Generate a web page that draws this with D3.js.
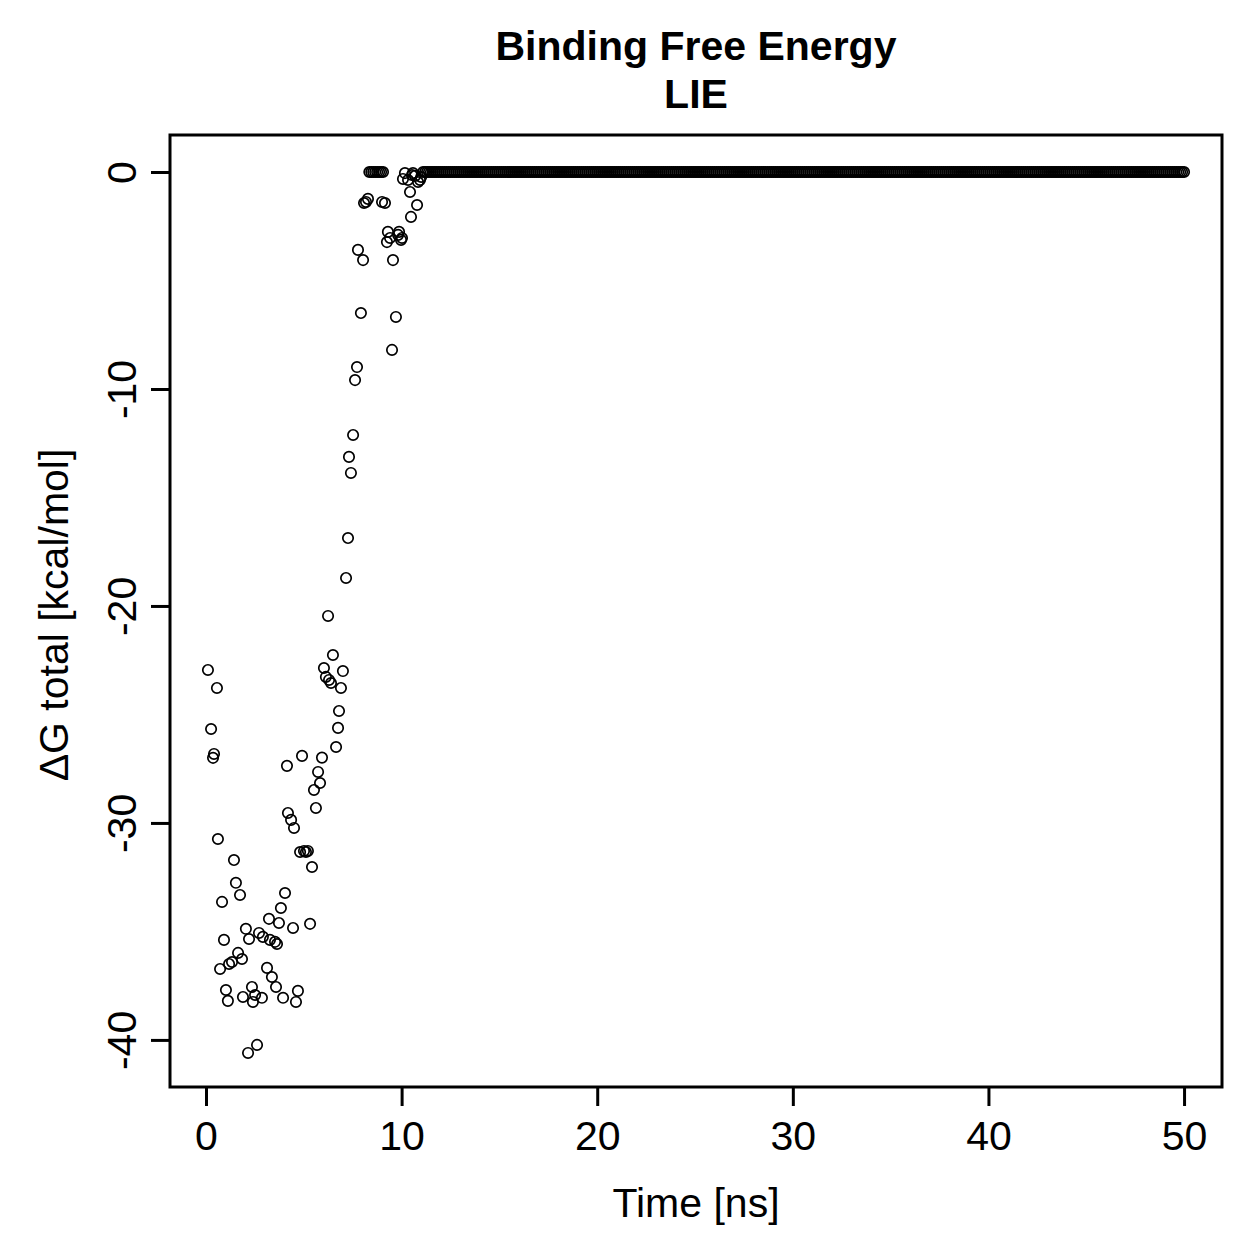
<!DOCTYPE html>
<html>
<head>
<meta charset="utf-8">
<script src="https://cdn.jsdelivr.net/npm/d3@7"></script>
<style>
  html, body { margin: 0; padding: 0; background: #fff; }
  text { font-family: "Liberation Sans", Arial, Helvetica, sans-serif; fill: #000; }
</style>
</head>
<body>
<script>
// ---- Data ----
const titleLines = ["Binding Free Energy", "LIE"];
const xLabel = "Time [ns]";
const yLabel = "\u0394G total [kcal/mol]";
const xTicks = [0, 10, 20, 30, 40, 50];
const yTicks = [-40, -30, -20, -10, 0];

// Early, fluctuating part of the trajectory (time in ns, ΔG in kcal/mol)
const earlyTimes = [
  0.10, 0.26, 0.36, 0.41, 0.56, 0.61, 0.72, 0.82, 0.92, 1.02,
  1.12, 1.18, 1.33, 1.43, 1.53, 1.64, 1.74, 1.84, 1.89, 2.04,
  2.15, 2.20, 2.35, 2.40, 2.51, 2.61, 2.71, 2.86, 2.91, 3.12,
  3.22, 3.27, 3.37, 3.53, 3.58, 3.63, 3.73, 3.83, 3.94, 4.04,
  4.14, 4.19, 4.35, 4.45, 4.50, 4.60, 4.70, 4.81, 4.91, 5.01,
  5.11, 5.21, 5.32, 5.42, 5.52, 5.62, 5.73, 5.83, 5.93, 6.03,
  6.13, 6.24, 6.29, 6.39, 6.49, 6.65, 6.75, 6.80, 6.90, 7.00,
  7.16, 7.26, 7.31, 7.41, 7.52, 7.62, 7.72, 7.77, 7.92, 8.03,
  8.08, 8.18, 8.28, 8.35, 8.45, 8.55, 8.65, 8.75, 8.85, 8.95,
  9.05, 9.00, 9.15, 9.25, 9.30, 9.41, 9.51, 9.56, 9.71, 9.82,
  9.87, 9.97, 10.02, 10.07, 10.17, 10.33, 10.43, 10.48, 10.53, 10.58,
  10.69, 10.79, 10.84, 10.94, 11.00
];
const earlyValues = [
  -22.95, -25.67, -27.00, -26.82, -23.78, -30.74, -36.73, -33.64, -35.39, -37.70,
  -38.20, -36.50, -36.41, -31.71, -32.76, -35.99, -33.32, -36.27, -38.02, -34.88,
  -40.60, -35.35, -37.56, -38.25, -37.93, -40.23, -35.07, -38.06, -35.25, -36.68,
  -34.42, -35.39, -37.10, -35.48, -37.56, -35.58, -34.61, -33.92, -38.06, -33.23,
  -27.37, -29.54, -29.86, -34.84, -30.23, -38.25, -37.74, -31.34, -26.91, -31.29,
  -31.34, -31.29, -34.65, -32.03, -28.48, -29.31, -27.65, -28.16, -26.99, -22.86,
  -23.27, -20.46, -23.41, -23.55, -22.26, -26.50, -25.62, -24.84, -23.78, -23.00,
  -18.71, -16.87, -13.13, -13.87, -12.12, -9.59, -8.99, -3.59, -6.50, -4.06,
  -1.43, -1.38, -1.24, 0, 0, 0, 0, 0, 0, 0,
  0, -1.38, -1.43, -3.23, -2.76, -3.04, -8.20, -4.06, -6.68, -2.90,
  -2.76, -3.13, -3.04, -0.32, -0.05, -0.37, -0.92, -2.07, -0.14, -0.05,
  -0.18, -1.52, -0.46, -0.37, -0.23
];

// Plateau: sampled every 0.1 ns from 11.1 ns to 50.0 ns, all values read as 0
const plateauStart = 11.1;
const plateauStep = 0.1;
const plateauValues = [
  0,0,0,0,0,0,0,0,0,0, 0,0,0,0,0,0,0,0,0,0, 0,0,0,0,0,0,0,0,0,0,
  0,0,0,0,0,0,0,0,0,0, 0,0,0,0,0,0,0,0,0,0, 0,0,0,0,0,0,0,0,0,0,
  0,0,0,0,0,0,0,0,0,0, 0,0,0,0,0,0,0,0,0,0, 0,0,0,0,0,0,0,0,0,0,
  0,0,0,0,0,0,0,0,0,0, 0,0,0,0,0,0,0,0,0,0, 0,0,0,0,0,0,0,0,0,0,
  0,0,0,0,0,0,0,0,0,0, 0,0,0,0,0,0,0,0,0,0, 0,0,0,0,0,0,0,0,0,0,
  0,0,0,0,0,0,0,0,0,0, 0,0,0,0,0,0,0,0,0,0, 0,0,0,0,0,0,0,0,0,0,
  0,0,0,0,0,0,0,0,0,0, 0,0,0,0,0,0,0,0,0,0, 0,0,0,0,0,0,0,0,0,0,
  0,0,0,0,0,0,0,0,0,0, 0,0,0,0,0,0,0,0,0,0, 0,0,0,0,0,0,0,0,0,0,
  0,0,0,0,0,0,0,0,0,0, 0,0,0,0,0,0,0,0,0,0, 0,0,0,0,0,0,0,0,0,0,
  0,0,0,0,0,0,0,0,0,0, 0,0,0,0,0,0,0,0,0,0, 0,0,0,0,0,0,0,0,0,0,
  0,0,0,0,0,0,0,0,0,0, 0,0,0,0,0,0,0,0,0,0, 0,0,0,0,0,0,0,0,0,0,
  0,0,0,0,0,0,0,0,0,0, 0,0,0,0,0,0,0,0,0,0, 0,0,0,0,0,0,0,0,0,0,
  0,0,0,0,0,0,0,0,0,0, 0,0,0,0,0,0,0,0,0,0, 0,0,0,0,0,0,0,0,0,0
];

// ---- Build points ----
const points = earlyTimes.map((t, i) => ({ t: t, v: earlyValues[i] }))
  .concat(plateauValues.map((v, i) => ({ t: +(plateauStart + i * plateauStep).toFixed(2), v: v })));

// ---- Layout ----
const W = 1259, H = 1259;
const box = { left: 170, right: 1222, top: 135, bottom: 1087 };
const FONT = 41;
const FAMILY = "'Liberation Sans', Arial, Helvetica, sans-serif";

const svg = d3.select("body").append("svg")
  .attr("width", W).attr("height", H)
  .attr("viewBox", `0 0 ${W} ${H}`);

const x = d3.scaleLinear().domain([-1.84, 51.94]).range([box.left, box.right]);
const y = d3.scaleLinear().domain([-42.17, 1.705]).range([box.bottom, box.top]);

// Points
svg.append("g")
  .selectAll("circle")
  .data(points)
  .join("circle")
  .attr("cx", d => x(d.t))
  .attr("cy", d => y(d.v))
  .attr("r", 5.2)
  .attr("fill", "none")
  .attr("stroke", "#000")
  .attr("stroke-width", 1.7);

// Box
svg.append("rect")
  .attr("x", box.left).attr("y", box.top)
  .attr("width", box.right - box.left).attr("height", box.bottom - box.top)
  .attr("fill", "none").attr("stroke", "#000").attr("stroke-width", 3);

const fmt = d => String(d); // plain hyphen-minus, as in the reference

// X axis
const xAxis = d3.axisBottom(x).tickValues(xTicks).tickSize(19).tickPadding(0).tickFormat(fmt);
const gx = svg.append("g").attr("transform", `translate(0,${box.bottom})`).call(xAxis);
gx.select(".domain").remove();
gx.selectAll(".tick line").attr("stroke", "#000").attr("stroke-width", 3);
gx.selectAll(".tick text")
  .attr("y", 63).attr("dy", null)
  .attr("font-size", FONT)
  .attr("font-family", FAMILY)
  .attr("fill", "#000");

// Y axis
const yAxis = d3.axisLeft(y).tickValues(yTicks).tickSize(19).tickPadding(0).tickFormat(fmt);
const gy = svg.append("g").attr("transform", `translate(${box.left},0)`).call(yAxis);
gy.select(".domain").remove();
gy.selectAll(".tick line").attr("stroke", "#000").attr("stroke-width", 3);
gy.selectAll(".tick text")
  .attr("x", null).attr("dy", null)
  .attr("transform", "translate(-34,0) rotate(-90)")
  .attr("text-anchor", "middle")
  .attr("font-size", FONT)
  .attr("font-family", FAMILY)
  .attr("fill", "#000");

// Axis titles
svg.append("text")
  .attr("x", (box.left + box.right) / 2)
  .attr("y", box.bottom + 130)
  .attr("text-anchor", "middle")
  .attr("font-size", FONT)
  .text(xLabel);

svg.append("text")
  .attr("transform", `translate(${box.left - 102},${(box.top + box.bottom) / 2 + 4}) rotate(-90)`)
  .attr("text-anchor", "middle")
  .attr("font-size", FONT)
  .text(yLabel);

// Title
const cx = (box.left + box.right) / 2;
svg.append("text")
  .attr("x", cx).attr("y", 60)
  .attr("text-anchor", "middle")
  .attr("font-size", FONT).attr("font-weight", "bold")
  .text(titleLines[0]);
svg.append("text")
  .attr("x", cx).attr("y", 108)
  .attr("text-anchor", "middle")
  .attr("font-size", FONT).attr("font-weight", "bold")
  .text(titleLines[1]);
</script>
</body>
</html>
